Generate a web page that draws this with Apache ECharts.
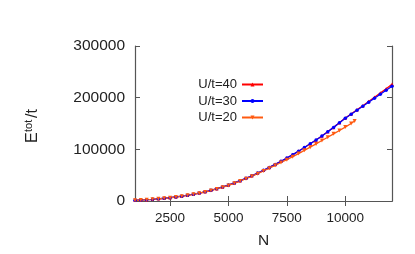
<!DOCTYPE html>
<html><head><meta charset="utf-8">
<script src="https://cdn.jsdelivr.net/npm/echarts@6/dist/echarts.min.js"></script>
<style>html,body{margin:0;padding:0;background:#fff}#c{width:415px;height:254px}</style>
</head><body><div id="c"></div>
<script>
var seriesNames = ['U/t=40', 'U/t=30', 'U/t=20'];
var xTicks = [2500, 5000, 7500, 10000];
var yTicks = [0, 100000, 200000, 300000];
var nMain = [1000,1250,1500,1750,2000,2250,2500,2750,3000,3250,3500,3750,4000,4250,4500,4750,5000,5250,5500,5750,6000,6250,6500,6750,7000,7250,7500,7750,8000,8250,8500,8750,9000,9250,9500,9750,10000,10250,10500,10750,11000,11250,11500,11750,12000];
var eU40 = [1500,2000,2600,3300,4300,5300,6500,7800,9300,11200,13200,15400,17800,20700,23800,27200,30800,35000,39300,44000,48800,54000,59300,65000,70800,77000,83300,89700,96300,103500,110700,118200,125800,134000,142500,151500,160500,168500,176500,184500,192500,200800,209000,217300,225800];
var eU30 = [1500,2000,2600,3300,4300,5300,6500,7800,9300,11200,13200,15400,17800,20700,23800,27200,30800,35000,39300,44000,48800,54000,59300,65000,70800,77000,83300,89700,96300,103500,110700,118200,125800,134000,142500,151500,160000,168000,175800,183500,191000,198800,206500,214300,222000];
var nU20 = [1000,1250,1500,1750,2000,2250,2500,2750,3000,3250,3500,3750,4000,4250,4500,4750,5000,5250,5500,5750,6000,6250,6500,6750,7000,7250,7500,7750,8000,8250,8500,8750,9000,9250,9500,9750,10000,10250,10400];
var eU20 = [1400,1900,2500,3200,4200,5200,6300,7600,9100,11000,12900,15100,17400,20300,23300,26600,30200,34300,38500,43100,47800,52900,58100,63600,69000,74500,80000,85800,91800,98000,104200,110500,117000,123500,130000,136500,143000,150000,155000];

function pairs(xs, ys){ return xs.map(function(x,i){ return [x, ys[i]]; }); }
function plain(v){ return String(v); }

var frame = {lineStyle:{color:'#555', width:1.2}};
var chart = echarts.init(document.getElementById('c'), null, {renderer:'canvas'});
chart.setOption({
  animation:false,
  backgroundColor:'#fff',
  grid:{left:135, right:23, top:46, bottom:52},
  legend:{
    orient:'vertical', align:'right', right:146, top:73,
    itemWidth:21, itemHeight:5, itemGap:3.5,
    textStyle:{fontFamily:'Liberation Sans', fontSize:13, color:'#222', lineHeight:13},
    data:seriesNames
  },
  xAxis:[{
    type:'value', min:1000, max:12000, position:'bottom',
    axisLine:frame, splitLine:{show:false},
    axisTick:{inside:true, length:5, lineStyle:{color:'#555'}, customValues:xTicks},
    axisLabel:{customValues:xTicks, formatter:plain, fontFamily:'Liberation Sans', fontSize:13.5, color:'#222', margin:10.5},
    name:'N', nameLocation:'middle', nameGap:32,
    nameTextStyle:{fontFamily:'Liberation Sans', fontSize:15.5, color:'#222'}
  },{
    type:'value', min:1000, max:12000, position:'top',
    axisLine:frame, splitLine:{show:false},
    axisTick:{inside:true, length:5, lineStyle:{color:'#555'}, customValues:xTicks},
    axisLabel:{show:false}
  }],
  yAxis:[{
    type:'value', min:0, max:300000, interval:100000, position:'left',
    axisLine:{show:true, lineStyle:{color:'#555', width:1.2}}, splitLine:{show:false},
    axisTick:{show:true, inside:true, length:5, lineStyle:{color:'#555'}},
    axisLabel:{formatter:plain, fontFamily:'Liberation Sans', fontSize:15.5, color:'#222', margin:10}
  },{
    type:'value', min:0, max:300000, interval:100000, position:'right',
    axisLine:{show:true, lineStyle:{color:'#555', width:1.2}}, splitLine:{show:false},
    axisTick:{show:true, inside:true, length:5, lineStyle:{color:'#555'}},
    axisLabel:{show:false}
  }],
  graphic:[{
    type:'group', x:41, y:143, rotation:Math.PI/2,
    children:[
      {type:'text', x:0, y:0, style:{text:'E', fontFamily:'Liberation Sans', fontSize:16, fill:'#222', verticalAlign:'bottom', align:'left'}},
      {type:'text', x:11, y:-7, style:{text:'tot', fontFamily:'Liberation Sans', fontSize:11, fill:'#222', verticalAlign:'bottom', align:'left'}},
      {type:'text', x:25, y:0, style:{text:'/t', fontFamily:'Liberation Sans', fontSize:16, fill:'#222', verticalAlign:'bottom', align:'left'}}
    ]
  }],
  series:[{
    name:seriesNames[0], type:'line', data:pairs(nMain, eU40),
    symbol:'triangle', symbolSize:3.5, showAllSymbol:true,
    lineStyle:{color:'#ff0000', width:1.3}, itemStyle:{color:'#ff0000'}
  },{
    name:seriesNames[1], type:'line', data:pairs(nMain, eU30),
    symbol:'circle', symbolSize:3.5, showAllSymbol:true,
    lineStyle:{color:'#0000ff', width:1.3}, itemStyle:{color:'#0000ff'}
  },{
    name:seriesNames[2], type:'line', data:pairs(nU20, eU20),
    symbol:'path://M0,0 L10,0 L5,9 Z', symbolSize:4, showAllSymbol:true,
    lineStyle:{color:'#ff5a10', width:1.3}, itemStyle:{color:'#ff5a10'}
  }]
});
</script></body></html>
